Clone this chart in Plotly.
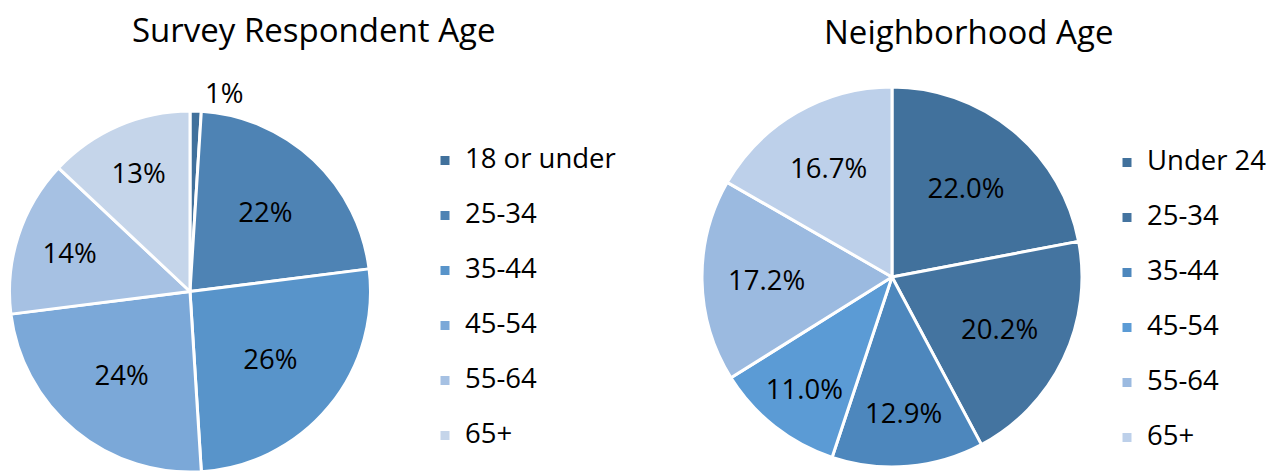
import plotly.graph_objects as go

# survey respondents
survey_groups = ["18 or under", "25-34", "35-44", "45-54", "55-64", "65+"]
survey_pct = [1, 22, 26, 24, 14, 13]
survey_colors = ["#41719C", "#4E83B4", "#5894CA", "#7BA8D8", "#A6C1E3", "#C5D5EA"]

# neighborhood
hood_groups = ["Under 24", "25-34", "35-44", "45-54", "55-64", "65+"]
hood_pct = [22.0, 20.2, 12.9, 11.0, 17.2, 16.7]
hood_colors = ["#41719C", "#4474A0", "#4D87BD", "#5B9BD5", "#9BBAE0", "#BDD0EA"]

FONT = "Open Sans"
# page body has an 8px margin, so the figure is a bit smaller than the window
W, H = 1272, 464


def px(x):
    return x / W


def py(y):
    return 1 - y / H


def legend_label(s, tag):
    # bigger first line, empty second line -> roomier legend rows
    # (tag keeps the two pies' labels apart, plotly merges equal pie labels)
    return "<span style='font-size:27.5px' class='%s'>%s</span><br> " % (tag, s)


fig = go.Figure()

fig.add_trace(go.Pie(
    labels=[legend_label(g, "a") for g in survey_groups],
    values=survey_pct,
    sort=False, direction="clockwise", rotation=0,
    marker=dict(colors=survey_colors, line=dict(color="white", width=3)),
    texttemplate="%{value}%",
    textposition=["outside"] + ["inside"] * 5,
    insidetextorientation="horizontal",
    textfont=dict(size=27.5, color="black", family=FONT),
    domain=dict(x=[px(1), px(363)], y=[0, py(103)]),
    legend="legend",
    hoverinfo="skip",
))

fig.add_trace(go.Pie(
    labels=[legend_label(g, "b") for g in hood_groups],
    values=hood_pct,
    sort=False, direction="clockwise", rotation=0,
    marker=dict(colors=hood_colors, line=dict(color="white", width=3)),
    texttemplate="%{value:.1f}%",
    textposition="inside",
    insidetextorientation="horizontal",
    textfont=dict(size=27.5, color="black", family=FONT),
    domain=dict(x=[px(694), px(1074)], y=[py(459), py(79)]),
    legend="legend2",
    hoverinfo="skip",
))

leg = dict(font=dict(size=20, family=FONT, color="black"), valign="top",
           bgcolor="rgba(0,0,0,0)", yanchor="top", xanchor="left")

title_font = dict(size=33, family=FONT, color="black")

fig.update_layout(
    width=W, height=H,
    margin=dict(l=0, r=0, t=0, b=0, autoexpand=False),
    paper_bgcolor="white",
    font=dict(family=FONT, color="black"),
    showlegend=True,
    legend=dict(x=px(417), y=py(133), **leg),
    legend2=dict(x=px(1099), y=py(135), **leg),
    annotations=[
        dict(text="Survey Respondent Age", x=px(305), y=py(0), xref="paper", yref="paper",
             xanchor="center", yanchor="top", height=41, borderpad=0,
             showarrow=False, font=title_font),
        dict(text="Neighborhood Age", x=px(960), y=py(2), xref="paper", yref="paper",
             xanchor="center", yanchor="top", height=41, borderpad=0,
             showarrow=False, font=title_font),
    ],
)

fig.write_html("out.html")
